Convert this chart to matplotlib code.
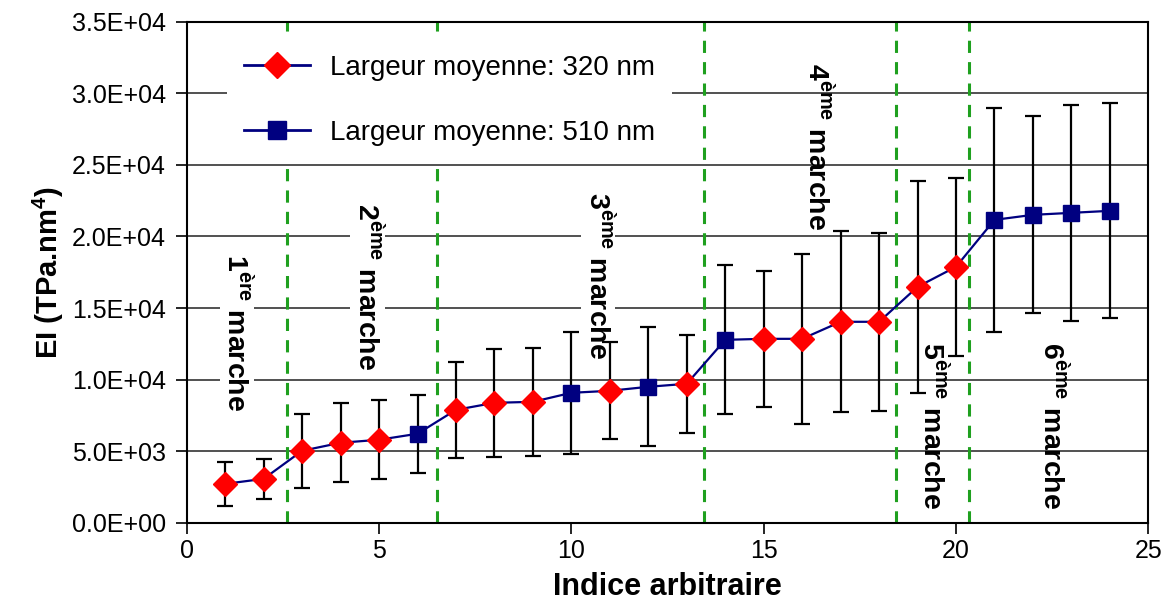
import matplotlib
matplotlib.use('Agg')
import matplotlib.pyplot as plt
from matplotlib.lines import Line2D
from matplotlib.ticker import FuncFormatter, MultipleLocator

plt.rcParams['font.family'] = 'Liberation Sans'
plt.rcParams['mathtext.fontset'] = 'custom'
plt.rcParams['mathtext.rm'] = 'Liberation Sans'
plt.rcParams['mathtext.bf'] = 'Liberation Sans:bold'

# data
indice = list(range(1, 25))
ei = [2720, 3070, 5030, 5590, 5800, 6220, 7890, 8380, 8450, 9080, 9220, 9500,
      9710, 12780, 12850, 12850, 14040, 14040, 16480, 17880, 21160, 21510, 21650, 21790]
ei_err = [1530, 1400, 2590, 2760, 2760, 2730, 3350, 3770, 3770, 4260, 3390, 4160,
          3420, 5200, 4750, 5930, 6320, 6220, 7400, 6220, 7820, 6880, 7540, 7500]
# 320 = largeur 320 nm (losange rouge), 510 = largeur 510 nm (carre bleu)
largeur = [320, 320, 320, 320, 320, 510, 320, 320, 320, 510, 320, 510,
           320, 510, 320, 320, 320, 320, 320, 320, 510, 510, 510, 510]

marches = [2.6, 6.5, 13.45, 18.45, 20.35]
marche_txt = ['1', '2', '3', '4', '5', '6']
marche_sup = ['ère', 'ème', 'ème', 'ème', 'ème', 'ème']
marche_x = [1.3, 4.7, 10.7, 16.4, 19.4, 22.5]
marche_y = [13300, 16500, 17300, 26300, 6800, 6800]
marche_fond = [True, True, True, False, False, False]

navy = '#000080'
red = '#ff0000'

fig = plt.figure(figsize=(11.67, 6.03), dpi=100)
ax = fig.add_axes([0.160, 0.133, 0.824, 0.831])

ax.errorbar(indice, ei, yerr=ei_err, fmt='none', ecolor='black', elinewidth=1.6,
            capsize=6, capthick=1.6, zorder=3)
ax.plot(indice, ei, color=navy, lw=1.6, zorder=4)

x320 = [x for x, w in zip(indice, largeur) if w == 320]
y320 = [y for y, w in zip(ei, largeur) if w == 320]
x510 = [x for x, w in zip(indice, largeur) if w == 510]
y510 = [y for y, w in zip(ei, largeur) if w == 510]
ax.plot(x320, y320, 'D', color=red, ms=12, ls='none', zorder=5)
ax.plot(x510, y510, 's', color=navy, ms=12, ls='none', zorder=5)

for m in marches:
    ax.axvline(m, color='#1fa01f', lw=2.2, ls=(0, (4, 3)), zorder=2)

for t, s, x, y, fond in zip(marche_txt, marche_sup, marche_x, marche_y, marche_fond):
    kw = {}
    if fond:
        kw['bbox'] = dict(facecolor='white', edgecolor='none', pad=1)
    ax.text(x, y, t + r'$^{\mathbf{' + s + '}}$ marche', rotation=-90,
            ha='center', va='center', fontsize=20.5, fontweight='bold', zorder=2.5, **kw)

ax.set_xlim(0, 25)
ax.set_ylim(0, 35000)
ax.xaxis.set_major_locator(MultipleLocator(5))
ax.yaxis.set_major_locator(MultipleLocator(5000))
ax.yaxis.set_major_formatter(FuncFormatter(lambda v, p: f"{v:.1E}"))
ax.yaxis.grid(True, color='#222222', lw=1.1)
ax.set_axisbelow(True)
ax.tick_params(axis='both', direction='out', length=8, width=1.2, labelsize=18)
ax.tick_params(axis='y', pad=7)
for sp in ax.spines.values():
    sp.set_linewidth(1.5)

ax.set_xlabel('Indice arbitraire', fontsize=22, fontweight='bold', labelpad=7)
ax.set_ylabel(r'EI (TPa.nm$^{\mathbf{4}}$)', fontsize=21, fontweight='bold', labelpad=4)

handles = [Line2D([], [], color=navy, lw=2, marker='D', mfc=red, mec=red, ms=13),
           Line2D([], [], color=navy, lw=2, marker='s', mfc=navy, mec=navy, ms=13)]
leg = ax.legend(handles, ['Largeur moyenne: 320 nm', 'Largeur moyenne: 510 nm'],
                loc='upper left', bbox_to_anchor=(0.042, 0.967), borderaxespad=0,
                fontsize=20, labelspacing=1.4, handlelength=2.4, handletextpad=0.7,
                borderpad=0.6, frameon=True, fancybox=False, framealpha=1,
                facecolor='white', edgecolor='none')
leg.set_zorder(6)

fig.savefig('out.png', dpi=100)
